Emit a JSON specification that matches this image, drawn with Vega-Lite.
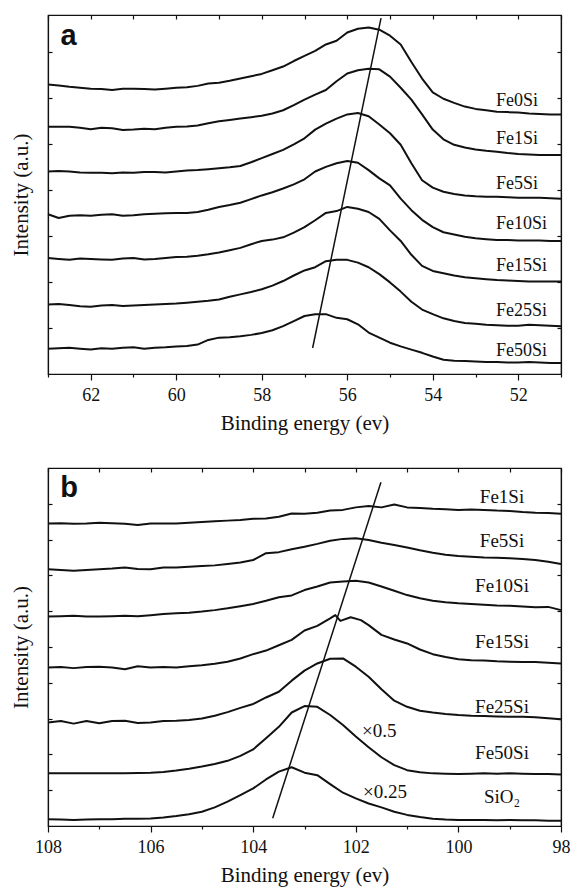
{
  "$schema": "https://vega.github.io/schema/vega-lite/v6.json",
  "background": "white",
  "padding": {"left": 9, "top": 13, "right": 1, "bottom": 2},
  "spacing": 32,
  "config": {
    "font": "'Liberation Serif', 'Times New Roman', 'DejaVu Serif', serif",
    "view": {"stroke": "#111", "strokeWidth": 1.2},
    "axis": {
      "grid": false,
      "domainColor": "#111",
      "domainWidth": 1.2,
      "tickColor": "#111",
      "tickWidth": 1.2,
      "labelColor": "#111",
      "titleColor": "#111",
      "labelFont": "'Liberation Serif', 'Times New Roman', 'DejaVu Serif', serif",
      "titleFont": "'Liberation Serif', 'Times New Roman', 'DejaVu Serif', serif",
      "labelFontSize": 18,
      "titleFontSize": 21,
      "titleFontWeight": "normal",
      "labelOverlap": false,
      "labelFlush": false
    },
    "text": {"font": "'Liberation Serif', 'Times New Roman', 'DejaVu Serif', serif", "fontSize": 18, "color": "#111"}
  },
  "vconcat": [
    {
      "width": 513,
      "height": 359,
      "resolve": {"axis": {"x": "independent", "y": "independent"}},
      "layer": [
        {
          "data": {"values": [
            {"E": 63, "Fe0Si": 6.29, "Fe1Si": 5.37, "Fe5Si": 4.40, "Fe10Si": 3.47, "Fe15Si": 2.52, "Fe25Si": 1.51, "Fe50Si": 0.55},
            {"E": 62.75, "Fe0Si": 6.27, "Fe1Si": 5.37, "Fe5Si": 4.41, "Fe10Si": 3.39, "Fe15Si": 2.50, "Fe25Si": 1.52, "Fe50Si": 0.56},
            {"E": 62.5, "Fe0Si": 6.24, "Fe1Si": 5.37, "Fe5Si": 4.40, "Fe10Si": 3.44, "Fe15Si": 2.48, "Fe25Si": 1.50, "Fe50Si": 0.57},
            {"E": 62.25, "Fe0Si": 6.22, "Fe1Si": 5.35, "Fe5Si": 4.38, "Fe10Si": 3.45, "Fe15Si": 2.51, "Fe25Si": 1.47, "Fe50Si": 0.55},
            {"E": 62, "Fe0Si": 6.20, "Fe1Si": 5.32, "Fe5Si": 4.37, "Fe10Si": 3.44, "Fe15Si": 2.50, "Fe25Si": 1.46, "Fe50Si": 0.53},
            {"E": 61.75, "Fe0Si": 6.19, "Fe1Si": 5.35, "Fe5Si": 4.37, "Fe10Si": 3.46, "Fe15Si": 2.49, "Fe25Si": 1.49, "Fe50Si": 0.56},
            {"E": 61.5, "Fe0Si": 6.17, "Fe1Si": 5.34, "Fe5Si": 4.36, "Fe10Si": 3.47, "Fe15Si": 2.48, "Fe25Si": 1.50, "Fe50Si": 0.55},
            {"E": 61.25, "Fe0Si": 6.20, "Fe1Si": 5.30, "Fe5Si": 4.38, "Fe10Si": 3.44, "Fe15Si": 2.51, "Fe25Si": 1.48, "Fe50Si": 0.57},
            {"E": 61, "Fe0Si": 6.20, "Fe1Si": 5.31, "Fe5Si": 4.37, "Fe10Si": 3.45, "Fe15Si": 2.52, "Fe25Si": 1.49, "Fe50Si": 0.58},
            {"E": 60.75, "Fe0Si": 6.19, "Fe1Si": 5.33, "Fe5Si": 4.39, "Fe10Si": 3.47, "Fe15Si": 2.49, "Fe25Si": 1.50, "Fe50Si": 0.55},
            {"E": 60.5, "Fe0Si": 6.18, "Fe1Si": 5.32, "Fe5Si": 4.39, "Fe10Si": 3.48, "Fe15Si": 2.50, "Fe25Si": 1.51, "Fe50Si": 0.57},
            {"E": 60.25, "Fe0Si": 6.20, "Fe1Si": 5.35, "Fe5Si": 4.38, "Fe10Si": 3.49, "Fe15Si": 2.52, "Fe25Si": 1.52, "Fe50Si": 0.58},
            {"E": 60, "Fe0Si": 6.22, "Fe1Si": 5.37, "Fe5Si": 4.40, "Fe10Si": 3.50, "Fe15Si": 2.54, "Fe25Si": 1.53, "Fe50Si": 0.60},
            {"E": 59.75, "Fe0Si": 6.23, "Fe1Si": 5.38, "Fe5Si": 4.42, "Fe10Si": 3.50, "Fe15Si": 2.55, "Fe25Si": 1.55, "Fe50Si": 0.61},
            {"E": 59.5, "Fe0Si": 6.26, "Fe1Si": 5.40, "Fe5Si": 4.43, "Fe10Si": 3.52, "Fe15Si": 2.57, "Fe25Si": 1.57, "Fe50Si": 0.64},
            {"E": 59.25, "Fe0Si": 6.31, "Fe1Si": 5.45, "Fe5Si": 4.45, "Fe10Si": 3.57, "Fe15Si": 2.60, "Fe25Si": 1.59, "Fe50Si": 0.74},
            {"E": 59, "Fe0Si": 6.33, "Fe1Si": 5.49, "Fe5Si": 4.47, "Fe10Si": 3.63, "Fe15Si": 2.64, "Fe25Si": 1.62, "Fe50Si": 0.79},
            {"E": 58.75, "Fe0Si": 6.37, "Fe1Si": 5.52, "Fe5Si": 4.49, "Fe10Si": 3.67, "Fe15Si": 2.69, "Fe25Si": 1.68, "Fe50Si": 0.80},
            {"E": 58.5, "Fe0Si": 6.42, "Fe1Si": 5.55, "Fe5Si": 4.52, "Fe10Si": 3.72, "Fe15Si": 2.74, "Fe25Si": 1.73, "Fe50Si": 0.82},
            {"E": 58.25, "Fe0Si": 6.47, "Fe1Si": 5.58, "Fe5Si": 4.60, "Fe10Si": 3.80, "Fe15Si": 2.82, "Fe25Si": 1.78, "Fe50Si": 0.85},
            {"E": 58, "Fe0Si": 6.52, "Fe1Si": 5.61, "Fe5Si": 4.69, "Fe10Si": 3.88, "Fe15Si": 2.89, "Fe25Si": 1.84, "Fe50Si": 0.89},
            {"E": 57.75, "Fe0Si": 6.60, "Fe1Si": 5.66, "Fe5Si": 4.78, "Fe10Si": 3.95, "Fe15Si": 2.92, "Fe25Si": 1.92, "Fe50Si": 0.95},
            {"E": 57.5, "Fe0Si": 6.68, "Fe1Si": 5.73, "Fe5Si": 4.87, "Fe10Si": 4.03, "Fe15Si": 2.97, "Fe25Si": 2.02, "Fe50Si": 1.04},
            {"E": 57.25, "Fe0Si": 6.80, "Fe1Si": 5.84, "Fe5Si": 4.99, "Fe10Si": 4.12, "Fe15Si": 3.07, "Fe25Si": 2.14, "Fe50Si": 1.15},
            {"E": 57, "Fe0Si": 6.91, "Fe1Si": 5.96, "Fe5Si": 5.12, "Fe10Si": 4.23, "Fe15Si": 3.19, "Fe25Si": 2.25, "Fe50Si": 1.26},
            {"E": 56.75, "Fe0Si": 7.02, "Fe1Si": 6.07, "Fe5Si": 5.31, "Fe10Si": 4.40, "Fe15Si": 3.34, "Fe25Si": 2.32, "Fe50Si": 1.30},
            {"E": 56.5, "Fe0Si": 7.16, "Fe1Si": 6.17, "Fe5Si": 5.44, "Fe10Si": 4.50, "Fe15Si": 3.50, "Fe25Si": 2.45, "Fe50Si": 1.30},
            {"E": 56.25, "Fe0Si": 7.24, "Fe1Si": 6.36, "Fe5Si": 5.55, "Fe10Si": 4.58, "Fe15Si": 3.54, "Fe25Si": 2.48, "Fe50Si": 1.22},
            {"E": 56, "Fe0Si": 7.42, "Fe1Si": 6.53, "Fe5Si": 5.64, "Fe10Si": 4.63, "Fe15Si": 3.63, "Fe25Si": 2.48, "Fe50Si": 1.19},
            {"E": 55.75, "Fe0Si": 7.50, "Fe1Si": 6.60, "Fe5Si": 5.67, "Fe10Si": 4.59, "Fe15Si": 3.59, "Fe25Si": 2.42, "Fe50Si": 1.08},
            {"E": 55.5, "Fe0Si": 7.53, "Fe1Si": 6.63, "Fe5Si": 5.60, "Fe10Si": 4.43, "Fe15Si": 3.52, "Fe25Si": 2.32, "Fe50Si": 0.90},
            {"E": 55.25, "Fe0Si": 7.48, "Fe1Si": 6.62, "Fe5Si": 5.42, "Fe10Si": 4.25, "Fe15Si": 3.37, "Fe25Si": 2.17, "Fe50Si": 0.79},
            {"E": 55, "Fe0Si": 7.35, "Fe1Si": 6.46, "Fe5Si": 5.23, "Fe10Si": 4.10, "Fe15Si": 3.12, "Fe25Si": 1.99, "Fe50Si": 0.68},
            {"E": 54.75, "Fe0Si": 7.16, "Fe1Si": 6.22, "Fe5Si": 4.98, "Fe10Si": 3.81, "Fe15Si": 2.89, "Fe25Si": 1.79, "Fe50Si": 0.60},
            {"E": 54.5, "Fe0Si": 6.78, "Fe1Si": 5.96, "Fe5Si": 4.58, "Fe10Si": 3.56, "Fe15Si": 2.59, "Fe25Si": 1.57, "Fe50Si": 0.53},
            {"E": 54.25, "Fe0Si": 6.42, "Fe1Si": 5.64, "Fe5Si": 4.21, "Fe10Si": 3.35, "Fe15Si": 2.35, "Fe25Si": 1.40, "Fe50Si": 0.46},
            {"E": 54, "Fe0Si": 6.12, "Fe1Si": 5.31, "Fe5Si": 4.05, "Fe10Si": 3.19, "Fe15Si": 2.24, "Fe25Si": 1.30, "Fe50Si": 0.38},
            {"E": 53.75, "Fe0Si": 5.98, "Fe1Si": 5.10, "Fe5Si": 3.96, "Fe10Si": 3.08, "Fe15Si": 2.19, "Fe25Si": 1.21, "Fe50Si": 0.31},
            {"E": 53.5, "Fe0Si": 5.89, "Fe1Si": 4.98, "Fe5Si": 3.91, "Fe10Si": 3.03, "Fe15Si": 2.14, "Fe25Si": 1.15, "Fe50Si": 0.29},
            {"E": 53.25, "Fe0Si": 5.81, "Fe1Si": 4.92, "Fe5Si": 3.88, "Fe10Si": 2.98, "Fe15Si": 2.10, "Fe25Si": 1.11, "Fe50Si": 0.28},
            {"E": 53, "Fe0Si": 5.76, "Fe1Si": 4.88, "Fe5Si": 3.86, "Fe10Si": 2.95, "Fe15Si": 2.08, "Fe25Si": 1.09, "Fe50Si": 0.27},
            {"E": 52.75, "Fe0Si": 5.73, "Fe1Si": 4.85, "Fe5Si": 3.85, "Fe10Si": 2.93, "Fe15Si": 2.06, "Fe25Si": 1.07, "Fe50Si": 0.26},
            {"E": 52.5, "Fe0Si": 5.70, "Fe1Si": 4.83, "Fe5Si": 3.85, "Fe10Si": 2.91, "Fe15Si": 2.04, "Fe25Si": 1.06, "Fe50Si": 0.26},
            {"E": 52.25, "Fe0Si": 5.69, "Fe1Si": 4.80, "Fe5Si": 3.84, "Fe10Si": 2.91, "Fe15Si": 2.03, "Fe25Si": 1.05, "Fe50Si": 0.25},
            {"E": 52, "Fe0Si": 5.68, "Fe1Si": 4.78, "Fe5Si": 3.83, "Fe10Si": 2.90, "Fe15Si": 2.02, "Fe25Si": 1.05, "Fe50Si": 0.25},
            {"E": 51.75, "Fe0Si": 5.66, "Fe1Si": 4.77, "Fe5Si": 3.83, "Fe10Si": 2.90, "Fe15Si": 2.01, "Fe25Si": 1.07, "Fe50Si": 0.26},
            {"E": 51.5, "Fe0Si": 5.65, "Fe1Si": 4.76, "Fe5Si": 3.83, "Fe10Si": 2.90, "Fe15Si": 2.01, "Fe25Si": 1.06, "Fe50Si": 0.25},
            {"E": 51.25, "Fe0Si": 5.64, "Fe1Si": 4.76, "Fe5Si": 3.82, "Fe10Si": 2.89, "Fe15Si": 2.01, "Fe25Si": 1.05, "Fe50Si": 0.24},
            {"E": 51, "Fe0Si": 5.64, "Fe1Si": 4.76, "Fe5Si": 3.81, "Fe10Si": 2.89, "Fe15Si": 2.01, "Fe25Si": 1.04, "Fe50Si": 0.24}
          ]},
          "transform": [
            {"fold": ["Fe0Si", "Fe1Si", "Fe5Si", "Fe10Si", "Fe15Si", "Fe25Si", "Fe50Si"], "as": ["sample", "I"]},
            {"filter": "isValid(datum.I)"}
          ],
          "mark": {"type": "line", "color": "#111", "strokeWidth": 2, "strokeJoin": "round"},
          "encoding": {
            "x": {
              "field": "E", "type": "quantitative",
              "scale": {"domain": [51, 63], "reverse": true, "nice": false, "zero": false},
              "axis": {
                "orient": "bottom", "title": "Binding energy (ev)",
                "values": [51, 52, 53, 54, 55, 56, 57, 58, 59, 60, 61, 62, 63],
                "labelExpr": "datum.value % 2 === 0 ? datum.label : ''",
                "tickSize": {"condition": {"test": "datum.value % 2 === 0", "value": 6}, "value": 3},
                "labelPadding": 6, "titlePadding": 8
              }
            },
            "y": {
              "field": "I", "type": "quantitative",
              "scale": {"domain": [0, 7.8], "nice": false, "zero": false},
              "axis": {
                "orient": "left", "title": "Intensity (a.u.)",
                "values": [1, 2, 3, 4, 5, 6, 7], "labels": false,
                "tickSize": -4, "titlePadding": 16
              }
            },
            "detail": {"field": "sample"}
          }
        },
        {
          "data": {"values": [{"E": 55.21, "I": 7.73}, {"E": 56.81, "I": 0.565}]},
          "mark": {"type": "line", "color": "#111", "strokeWidth": 1.5},
          "encoding": {
            "x": {
              "field": "E", "type": "quantitative",
              "scale": {"domain": [51, 63], "reverse": true, "nice": false, "zero": false},
              "axis": {
                "orient": "top", "title": null, "labels": false,
                "values": [51, 52, 53, 54, 55, 56, 57, 58, 59, 60, 61, 62, 63],
                "tickSize": -4
              }
            },
            "y": {
              "field": "I", "type": "quantitative",
              "scale": {"domain": [0, 7.8], "nice": false, "zero": false},
              "axis": {
                "orient": "right", "title": null, "labels": false,
                "values": [1, 2, 3, 4, 5, 6, 7], "tickSize": -4
              }
            }
          }
        },
        {
          "data": {"values": [
            {"E": 52.52, "I": 5.83, "txt": "Fe0Si"},
            {"E": 52.52, "I": 5.00, "txt": "Fe1Si"},
            {"E": 52.52, "I": 4.01, "txt": "Fe5Si"},
            {"E": 52.52, "I": 3.14, "txt": "Fe10Si"},
            {"E": 52.52, "I": 2.23, "txt": "Fe15Si"},
            {"E": 52.52, "I": 1.27, "txt": "Fe25Si"},
            {"E": 52.52, "I": 0.40, "txt": "Fe50Si"}
          ]},
          "mark": {"type": "text", "align": "left", "baseline": "alphabetic", "fontSize": 18},
          "encoding": {
            "x": {"field": "E", "type": "quantitative", "axis": null},
            "y": {"field": "I", "type": "quantitative", "axis": null},
            "text": {"field": "txt"}
          }
        },
        {
          "data": {"values": [{"E": 62.71, "I": 7.14, "txt": "a"}]},
          "mark": {"type": "text", "align": "left", "baseline": "alphabetic", "font": "'Liberation Sans', Arial, sans-serif", "fontWeight": "bold", "fontSize": 29},
          "encoding": {
            "x": {"field": "E", "type": "quantitative", "axis": null},
            "y": {"field": "I", "type": "quantitative", "axis": null},
            "text": {"field": "txt"}
          }
        }
      ]
    },
    {
      "width": 513,
      "height": 358,
      "resolve": {"axis": {"x": "independent", "y": "independent"}},
      "layer": [
        {
          "data": {"values": [
            {"E": 108, "Fe1Si": 8.45, "Fe5Si": 7.17, "Fe10Si": 5.85, "Fe15Si": 4.43, "Fe25Si": 2.89, "Fe50Si": 1.47, "SiO2": 0.19},
            {"E": 107.75, "Fe1Si": 8.46, "Fe5Si": 7.15, "Fe10Si": 5.86, "Fe15Si": 4.44, "Fe25Si": 2.93, "Fe50Si": 1.47, "SiO2": 0.18},
            {"E": 107.5, "Fe1Si": 8.44, "Fe5Si": 7.13, "Fe10Si": 5.87, "Fe15Si": 4.41, "Fe25Si": 2.86, "Fe50Si": 1.47, "SiO2": 0.17},
            {"E": 107.25, "Fe1Si": 8.45, "Fe5Si": 7.15, "Fe10Si": 5.85, "Fe15Si": 4.44, "Fe25Si": 2.93, "Fe50Si": 1.47, "SiO2": 0.18},
            {"E": 107, "Fe1Si": 8.47, "Fe5Si": 7.17, "Fe10Si": 5.85, "Fe15Si": 4.45, "Fe25Si": 2.87, "Fe50Si": 1.47, "SiO2": 0.19},
            {"E": 106.75, "Fe1Si": 8.46, "Fe5Si": 7.19, "Fe10Si": 5.86, "Fe15Si": 4.43, "Fe25Si": 2.93, "Fe50Si": 1.47, "SiO2": 0.19},
            {"E": 106.5, "Fe1Si": 8.44, "Fe5Si": 7.22, "Fe10Si": 5.87, "Fe15Si": 4.38, "Fe25Si": 2.94, "Fe50Si": 1.47, "SiO2": 0.20},
            {"E": 106.25, "Fe1Si": 8.41, "Fe5Si": 7.18, "Fe10Si": 5.86, "Fe15Si": 4.46, "Fe25Si": 2.88, "Fe50Si": 1.48, "SiO2": 0.20},
            {"E": 106, "Fe1Si": 8.45, "Fe5Si": 7.17, "Fe10Si": 5.89, "Fe15Si": 4.43, "Fe25Si": 2.89, "Fe50Si": 1.49, "SiO2": 0.21},
            {"E": 105.75, "Fe1Si": 8.45, "Fe5Si": 7.22, "Fe10Si": 5.92, "Fe15Si": 4.44, "Fe25Si": 2.93, "Fe50Si": 1.51, "SiO2": 0.24},
            {"E": 105.5, "Fe1Si": 8.45, "Fe5Si": 7.22, "Fe10Si": 5.94, "Fe15Si": 4.43, "Fe25Si": 2.94, "Fe50Si": 1.55, "SiO2": 0.28},
            {"E": 105.25, "Fe1Si": 8.47, "Fe5Si": 7.24, "Fe10Si": 5.96, "Fe15Si": 4.46, "Fe25Si": 2.96, "Fe50Si": 1.60, "SiO2": 0.33},
            {"E": 105, "Fe1Si": 8.49, "Fe5Si": 7.26, "Fe10Si": 5.99, "Fe15Si": 4.49, "Fe25Si": 3.00, "Fe50Si": 1.66, "SiO2": 0.40},
            {"E": 104.75, "Fe1Si": 8.51, "Fe5Si": 7.28, "Fe10Si": 6.03, "Fe15Si": 4.53, "Fe25Si": 3.08, "Fe50Si": 1.73, "SiO2": 0.52},
            {"E": 104.5, "Fe1Si": 8.53, "Fe5Si": 7.32, "Fe10Si": 6.08, "Fe15Si": 4.59, "Fe25Si": 3.18, "Fe50Si": 1.82, "SiO2": 0.68},
            {"E": 104.25, "Fe1Si": 8.55, "Fe5Si": 7.36, "Fe10Si": 6.14, "Fe15Si": 4.68, "Fe25Si": 3.30, "Fe50Si": 1.96, "SiO2": 0.86},
            {"E": 104, "Fe1Si": 8.58, "Fe5Si": 7.43, "Fe10Si": 6.20, "Fe15Si": 4.80, "Fe25Si": 3.41, "Fe50Si": 2.14, "SiO2": 1.05},
            {"E": 103.75, "Fe1Si": 8.59, "Fe5Si": 7.62, "Fe10Si": 6.29, "Fe15Si": 4.90, "Fe25Si": 3.59, "Fe50Si": 2.45, "SiO2": 1.30},
            {"E": 103.5, "Fe1Si": 8.64, "Fe5Si": 7.65, "Fe10Si": 6.39, "Fe15Si": 5.05, "Fe25Si": 3.75, "Fe50Si": 2.77, "SiO2": 1.52},
            {"E": 103.25, "Fe1Si": 8.73, "Fe5Si": 7.73, "Fe10Si": 6.44, "Fe15Si": 5.20, "Fe25Si": 4.06, "Fe50Si": 3.17, "SiO2": 1.64},
            {"E": 103, "Fe1Si": 8.72, "Fe5Si": 7.80, "Fe10Si": 6.59, "Fe15Si": 5.46, "Fe25Si": 4.34, "Fe50Si": 3.35, "SiO2": 1.49},
            {"E": 102.75, "Fe1Si": 8.75, "Fe5Si": 7.88, "Fe10Si": 6.69, "Fe15Si": 5.59, "Fe25Si": 4.54, "Fe50Si": 3.33, "SiO2": 1.42},
            {"E": 102.5, "Fe1Si": 8.81, "Fe5Si": 7.97, "Fe10Si": 6.80, "Fe15Si": 5.80, "Fe25Si": 4.67, "Fe50Si": 3.10, "SiO2": 1.17},
            {"E": 102.4, "Fe15Si": 5.89},
            {"E": 102.3, "Fe15Si": 5.73},
            {"E": 102.25, "Fe1Si": 8.83, "Fe5Si": 8.02, "Fe10Si": 6.83, "Fe25Si": 4.68, "Fe50Si": 2.82, "SiO2": 0.93},
            {"E": 102.1, "Fe15Si": 5.83},
            {"E": 102, "Fe1Si": 8.90, "Fe5Si": 8.04, "Fe10Si": 6.85, "Fe25Si": 4.45, "Fe50Si": 2.50, "SiO2": 0.77},
            {"E": 101.9, "Fe15Si": 5.75},
            {"E": 101.75, "Fe1Si": 8.94, "Fe5Si": 7.99, "Fe10Si": 6.80, "Fe15Si": 5.61, "Fe25Si": 4.17, "Fe50Si": 2.20, "SiO2": 0.63},
            {"E": 101.5, "Fe1Si": 8.90, "Fe5Si": 7.91, "Fe10Si": 6.69, "Fe15Si": 5.34, "Fe25Si": 3.82, "Fe50Si": 1.92, "SiO2": 0.52},
            {"E": 101.25, "Fe1Si": 8.98, "Fe5Si": 7.85, "Fe10Si": 6.57, "Fe15Si": 5.21, "Fe25Si": 3.50, "Fe50Si": 1.70, "SiO2": 0.40},
            {"E": 101, "Fe1Si": 8.90, "Fe5Si": 7.78, "Fe10Si": 6.45, "Fe15Si": 5.10, "Fe25Si": 3.33, "Fe50Si": 1.56, "SiO2": 0.31},
            {"E": 100.75, "Fe1Si": 8.88, "Fe5Si": 7.70, "Fe10Si": 6.36, "Fe15Si": 4.93, "Fe25Si": 3.22, "Fe50Si": 1.50, "SiO2": 0.25},
            {"E": 100.5, "Fe1Si": 8.86, "Fe5Si": 7.63, "Fe10Si": 6.29, "Fe15Si": 4.80, "Fe25Si": 3.17, "Fe50Si": 1.47, "SiO2": 0.20},
            {"E": 100.25, "Fe1Si": 8.85, "Fe5Si": 7.58, "Fe10Si": 6.25, "Fe15Si": 4.72, "Fe25Si": 3.13, "Fe50Si": 1.46, "SiO2": 0.18},
            {"E": 100, "Fe1Si": 8.83, "Fe5Si": 7.54, "Fe10Si": 6.22, "Fe15Si": 4.66, "Fe25Si": 3.10, "Fe50Si": 1.45, "SiO2": 0.17},
            {"E": 99.75, "Fe1Si": 8.84, "Fe5Si": 7.52, "Fe10Si": 6.20, "Fe15Si": 4.63, "Fe25Si": 3.08, "Fe50Si": 1.46, "SiO2": 0.17},
            {"E": 99.5, "Fe1Si": 8.83, "Fe5Si": 7.50, "Fe10Si": 6.18, "Fe15Si": 4.62, "Fe25Si": 3.07, "Fe50Si": 1.47, "SiO2": 0.17},
            {"E": 99.25, "Fe1Si": 8.81, "Fe5Si": 7.49, "Fe10Si": 6.16, "Fe15Si": 4.60, "Fe25Si": 3.06, "Fe50Si": 1.46, "SiO2": 0.16},
            {"E": 99, "Fe1Si": 8.80, "Fe5Si": 7.48, "Fe10Si": 6.15, "Fe15Si": 4.59, "Fe25Si": 3.05, "Fe50Si": 1.47, "SiO2": 0.17},
            {"E": 98.75, "Fe1Si": 8.77, "Fe5Si": 7.46, "Fe10Si": 6.13, "Fe15Si": 4.58, "Fe25Si": 3.05, "Fe50Si": 1.46, "SiO2": 0.16},
            {"E": 98.5, "Fe1Si": 8.75, "Fe5Si": 7.43, "Fe10Si": 6.11, "Fe15Si": 4.58, "Fe25Si": 3.04, "Fe50Si": 1.45, "SiO2": 0.16},
            {"E": 98.25, "Fe1Si": 8.74, "Fe5Si": 7.38, "Fe10Si": 6.12, "Fe15Si": 4.56, "Fe25Si": 3.01, "Fe50Si": 1.45, "SiO2": 0.15},
            {"E": 98, "Fe1Si": 8.72, "Fe5Si": 7.32, "Fe10Si": 6.03, "Fe15Si": 4.54, "Fe25Si": 2.98, "Fe50Si": 1.44, "SiO2": 0.15}
          ]},
          "transform": [
            {"fold": ["Fe1Si", "Fe5Si", "Fe10Si", "Fe15Si", "Fe25Si", "Fe50Si", "SiO2"], "as": ["sample", "I"]},
            {"filter": "isValid(datum.I)"}
          ],
          "mark": {"type": "line", "color": "#111", "strokeWidth": 2, "strokeJoin": "round"},
          "encoding": {
            "x": {
              "field": "E", "type": "quantitative",
              "scale": {"domain": [98, 108], "reverse": true, "nice": false, "zero": false},
              "axis": {
                "orient": "bottom", "title": "Binding energy (ev)",
                "values": [98, 99, 100, 101, 102, 103, 104, 105, 106, 107, 108],
                "labelExpr": "datum.value % 2 === 0 ? datum.label : ''",
                "tickSize": {"condition": {"test": "datum.value % 2 === 0", "value": 6}, "value": 3},
                "labelPadding": 6, "titlePadding": 8
              }
            },
            "y": {
              "field": "I", "type": "quantitative",
              "scale": {"domain": [0, 10], "nice": false, "zero": false},
              "axis": {
                "orient": "left", "title": "Intensity (a.u.)",
                "values": [1, 2, 3, 4, 5, 6, 7, 8, 9], "labels": false,
                "tickSize": -4, "titlePadding": 16
              }
            },
            "detail": {"field": "sample"}
          }
        },
        {
          "data": {"values": [{"E": 101.51, "I": 9.6}, {"E": 103.62, "I": 0.215}]},
          "mark": {"type": "line", "color": "#111", "strokeWidth": 1.5},
          "encoding": {
            "x": {
              "field": "E", "type": "quantitative",
              "scale": {"domain": [98, 108], "reverse": true, "nice": false, "zero": false},
              "axis": {
                "orient": "top", "title": null, "labels": false,
                "values": [98, 99, 100, 101, 102, 103, 104, 105, 106, 107, 108],
                "tickSize": -4
              }
            },
            "y": {
              "field": "I", "type": "quantitative",
              "scale": {"domain": [0, 10], "nice": false, "zero": false},
              "axis": {
                "orient": "right", "title": null, "labels": false,
                "values": [1, 2, 3, 4, 5, 6, 7, 8, 9], "tickSize": -4
              }
            }
          }
        },
        {
          "data": {"values": [
            {"E": 99.15, "I": 9.01, "txt": "Fe1Si"},
            {"E": 99.15, "I": 7.80, "txt": "Fe5Si"},
            {"E": 99.15, "I": 6.55, "txt": "Fe10Si"},
            {"E": 99.15, "I": 4.96, "txt": "Fe15Si"},
            {"E": 99.15, "I": 3.15, "txt": "Fe25Si"},
            {"E": 99.15, "I": 1.86, "txt": "Fe50Si"},
            {"E": 99.15, "I": 0.63, "txt": "SiO₂"}
          ]},
          "mark": {"type": "text", "align": "center", "baseline": "alphabetic", "fontSize": 19},
          "encoding": {
            "x": {"field": "E", "type": "quantitative", "axis": null},
            "y": {"field": "I", "type": "quantitative", "axis": null},
            "text": {"field": "txt"}
          }
        },
        {
          "data": {"values": [
            {"E": 101.88, "I": 2.50, "txt": "×0.5"},
            {"E": 101.86, "I": 0.77, "txt": "×0.25"}
          ]},
          "mark": {"type": "text", "align": "left", "baseline": "alphabetic", "fontSize": 19},
          "encoding": {
            "x": {"field": "E", "type": "quantitative", "axis": null},
            "y": {"field": "I", "type": "quantitative", "axis": null},
            "text": {"field": "txt"}
          }
        },
        {
          "data": {"values": [{"E": 107.76, "I": 9.18, "txt": "b"}]},
          "mark": {"type": "text", "align": "left", "baseline": "alphabetic", "font": "'Liberation Sans', Arial, sans-serif", "fontWeight": "bold", "fontSize": 29},
          "encoding": {
            "x": {"field": "E", "type": "quantitative", "axis": null},
            "y": {"field": "I", "type": "quantitative", "axis": null},
            "text": {"field": "txt"}
          }
        }
      ]
    }
  ]
}
